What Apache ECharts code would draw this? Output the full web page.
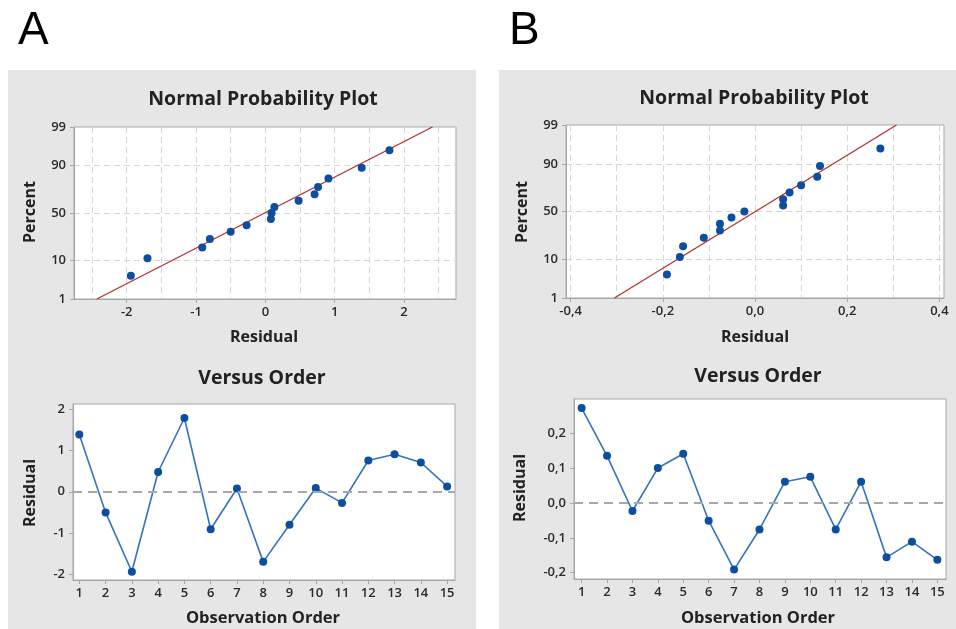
<!DOCTYPE html>
<html>
<head>
<meta charset="utf-8">
<script src="https://cdn.jsdelivr.net/npm/echarts@6/dist/echarts.min.js"></script>
<style>
  html, body { margin: 0; padding: 0; background: #fff; }
  #main { width: 956px; height: 629px; }
</style>
</head>
<body>
<div id="main"></div>
<script type="text/javascript">
    var orderNo = [1, 2, 3, 4, 5, 6, 7, 8, 9, 10, 11, 12, 13, 14, 15];
    var residA  = [1.39, -0.50, -1.94, 0.48, 1.79, -0.91, 0.08, -1.70, -0.80, 0.09, -0.27, 0.76, 0.91, 0.71, 0.13];
    var residB  = [0.272, 0.135, -0.023, 0.100, 0.141, -0.051, -0.191, -0.076, 0.061, 0.075, -0.076, 0.061, -0.156, -0.111, -0.163];
    // percent of each (sorted) residual on the normal probability plots
    var probPct = [4.5, 11.0, 17.5, 24.0, 30.5, 37.0, 43.5, 50.0, 56.5, 63.0, 69.5, 76.0, 82.5, 89.0, 95.5];
    // fitted red line ends [residual, percent]
    var fitA = [[-2.43, 1], [2.41, 99]];
    var fitB = [[-0.305, 1], [0.307, 99]];

    // tick labels
    var pctTicks   = [1, 10, 50, 90, 99];
    var resTicksA  = [-2, -1, 0, 1, 2];
    var resGridA   = [-2.5, -2, -1.5, -1, -0.5, 0, 0.5, 1, 1.5, 2, 2.5];
    var resTicksB  = [-0.4, -0.2, 0, 0.2, 0.4];
    var resGridB   = [-0.4, -0.3, -0.2, -0.1, 0, 0.1, 0.2, 0.3, 0.4];
    var ordTicksA  = [-2, -1, 0, 1, 2];
    var ordTicksB  = [-0.2, -0.1, 0, 0.1, 0.2];

    // inverse normal cdf (Acklam) - the probability scale of the y axis
    function probit(p) {
        var a = [-3.969683028665376e+01, 2.209460984245205e+02, -2.759285104469687e+02, 1.383577518672690e+02, -3.066479806614716e+01, 2.506628277459239e+00];
        var b = [-5.447609879822406e+01, 1.615858368580409e+02, -1.556989798598866e+02, 6.680131188771972e+01, -1.328068155288572e+01];
        var c = [-7.784894002430293e-03, -3.223964580411365e-01, -2.400758277161838e+00, -2.549732539343734e+00, 4.374664141464968e+00, 2.938163982698783e+00];
        var d = [7.784695709041462e-03, 3.224671290700398e-01, 2.445134137142996e+00, 3.754408661907416e+00];
        var pl = 0.02425, q, r;
        if (p < pl) {
            q = Math.sqrt(-2 * Math.log(p));
            return (((((c[0]*q+c[1])*q+c[2])*q+c[3])*q+c[4])*q+c[5]) / ((((d[0]*q+d[1])*q+d[2])*q+d[3])*q+1);
        }
        if (p > 1 - pl) {
            q = Math.sqrt(-2 * Math.log(1 - p));
            return -(((((c[0]*q+c[1])*q+c[2])*q+c[3])*q+c[4])*q+c[5]) / ((((d[0]*q+d[1])*q+d[2])*q+d[3])*q+1);
        }
        q = p - 0.5; r = q * q;
        return (((((a[0]*r+a[1])*r+a[2])*r+a[3])*r+a[4])*r+a[5])*q / (((((b[0]*r+b[1])*r+b[2])*r+b[3])*r+b[4])*r+1);
    }
    function z(pct) { return probit(pct / 100); }
    var zTicks = pctTicks.map(z);
    function pctLabel(v) {
        for (var i = 0; i < zTicks.length; i++) if (Math.abs(zTicks[i] - v) < 1e-6) return pctTicks[i];
        return '';
    }
    function comma(v, d) { return v.toFixed(d).replace('.', ','); }

    function probData(res) {
        var s = res.slice().sort(function (a, b) { return a - b; });
        return s.map(function (v, i) { return [v, z(probPct[i])]; });
    }
    function fitData(f) { return f.map(function (p) { return [p[0], z(p[1])]; }); }
    function orderData(res) { return orderNo.map(function (o, i) { return [o, res[i]]; }); }

    var FONT = 'Open Sans';
    var labelStyle = { color: '#2b2b2b', fontSize: 13, fontFamily: FONT, fontWeight: 600 };
    var axLine = { show: true, onZero: false, lineStyle: { color: '#a6a6a6' } };
    var axTick = { show: true, inside: false, length: 4, lineStyle: { color: '#a6a6a6' } };
    var dashGrid = { show: true, lineStyle: { color: '#d6d6d6', type: [6, 4], width: 1 } };

    function mainX(grid, min, max, ticks, fmt, margin) {
        return {
            type: 'value', gridIndex: grid, min: min, max: max, position: 'bottom',
            axisLine: axLine,
            axisTick: Object.assign({ customValues: ticks }, axTick),
            axisLabel: Object.assign({ customValues: ticks, formatter: fmt, margin: margin }, labelStyle),
            splitLine: { show: false }
        };
    }
    function helperX(grid, min, max, ticks) {
        return {
            type: 'value', gridIndex: grid, min: min, max: max, position: 'top',
            axisLine: { show: false, onZero: false },
            axisTick: { show: false, customValues: ticks },
            axisLabel: { show: false, customValues: ticks },
            splitLine: dashGrid
        };
    }
    function valY(grid, min, max, ticks, fmt, split) {
        return {
            type: 'value', gridIndex: grid, min: min, max: max,
            axisLine: axLine,
            axisTick: Object.assign({ customValues: ticks }, axTick),
            axisLabel: Object.assign({ customValues: ticks, formatter: fmt, margin: 8 }, labelStyle),
            splitLine: split ? dashGrid : { show: false }
        };
    }

    var gridBase = { show: true, backgroundColor: '#fff', borderColor: '#a6a6a6', borderWidth: 1, containLabel: false };
    var grids = [
        Object.assign({ left: 74,  top: 127, width: 382, height: 172 }, gridBase),
        Object.assign({ left: 73,  top: 404, width: 382, height: 176 }, gridBase),
        Object.assign({ left: 566, top: 125, width: 378, height: 173 }, gridBase),
        Object.assign({ left: 574, top: 399, width: 372, height: 180 }, gridBase)
    ];

    var intFmt = function (v) { return String(Math.round(v)); };
    var xAxes = [
        mainX(0, -2.76, 2.75, resTicksA, intFmt, 7),                               // 0
        helperX(0, -2.76, 2.75, resGridA),                                          // 1
        mainX(1, 0.76, 15.3, orderNo, intFmt, 7),                                   // 2
        mainX(2, -0.41, 0.41, resTicksB, function (v) { return comma(v, 1); }, 7), // 3
        helperX(2, -0.41, 0.41, resGridB),                                          // 4
        mainX(3, 0.7, 15.34, orderNo, intFmt, 7)                                    // 5
    ];
    var yAxes = [
        valY(0, z(1), z(99), zTicks, pctLabel, true),
        valY(1, -2.14, 2.13, ordTicksA, intFmt, false),
        valY(2, z(1), z(99), zTicks, pctLabel, true),
        valY(3, -0.218, 0.298, ordTicksB, function (v) { return comma(v, 1); }, false)
    ];

    var dotColor = '#0d4f9e';
    var lineColor = '#3473bd';
    var redColor = '#b3302c';
    var zeroLine = {
        silent: true, symbol: ['none', 'none'], label: { show: false },
        lineStyle: { color: '#a8a8a8', type: [9, 6], width: 2 },
        data: [{ yAxis: 0 }]
    };

    function scatter(x, y, res) {
        return { type: 'scatter', xAxisIndex: x, yAxisIndex: y, data: probData(res),
                 symbol: 'circle', symbolSize: 8, itemStyle: { color: dotColor, opacity: 1 }, z: 4 };
    }
    function fit(x, y, f) {
        return { type: 'line', xAxisIndex: x, yAxisIndex: y, data: fitData(f), showSymbol: false,
                 lineStyle: { color: redColor, width: 1.3 }, z: 3 };
    }
    function order(x, y, res) {
        return { type: 'line', xAxisIndex: x, yAxisIndex: y, data: orderData(res),
                 symbol: 'circle', symbolSize: 8, itemStyle: { color: dotColor },
                 lineStyle: { color: lineColor, width: 1.6 }, markLine: zeroLine, z: 4 };
    }

    function txt(s, x, y, size, opts) {
        return Object.assign({
            type: 'text', x: x, y: y, z: 100,
            style: { text: s, font: 'bold ' + size + 'px "' + FONT + '"', fill: '#222',
                     textAlign: 'center', textVerticalAlign: 'middle' }
        }, opts && opts.rotate ? { rotation: Math.PI / 2 } : {});
    }

    var graphics = [
        { type: 'rect', z: -100, shape: { x: 8, y: 70, width: 468, height: 559 }, style: { fill: '#e6e6e6' } },
        { type: 'rect', z: -100, shape: { x: 499, y: 70, width: 457, height: 559 }, style: { fill: '#e6e6e6' } },
        { type: 'text', x: 18, y: 8, z: 100, style: { text: 'A', font: '46px "Liberation Sans"', fill: '#000' } },
        { type: 'text', x: 509, y: 8, z: 100, style: { text: 'B', font: '46px "Liberation Sans"', fill: '#000' } },
        txt('Normal Probability Plot', 263, 99, 19.5),
        txt('Normal Probability Plot', 754, 98, 19.5),
        txt('Versus Order', 262, 378, 19.5),
        txt('Versus Order', 758, 376, 19.5),
        txt('Residual', 264, 337, 16),
        txt('Residual', 755, 337, 16),
        txt('Observation Order', 263, 618, 16.5),
        txt('Observation Order', 758, 618, 16.5),
        txt('Percent', 30, 212, 16, { rotate: true }),
        txt('Percent', 522, 212, 16, { rotate: true }),
        txt('Residual', 30, 493, 16, { rotate: true }),
        txt('Residual', 520, 488, 16, { rotate: true })
    ];

    var myChart = echarts.init(document.getElementById('main'));
    myChart.setOption({
        animation: false,
        backgroundColor: '#fff',
        grid: grids,
        xAxis: xAxes,
        yAxis: yAxes,
        graphic: graphics,
        series: [
            fit(0, 0, fitA),
            scatter(0, 0, residA),
            order(2, 1, residA),
            fit(3, 2, fitB),
            scatter(3, 2, residB),
            order(5, 3, residB)
        ]
    });
</script>
</body>
</html>
